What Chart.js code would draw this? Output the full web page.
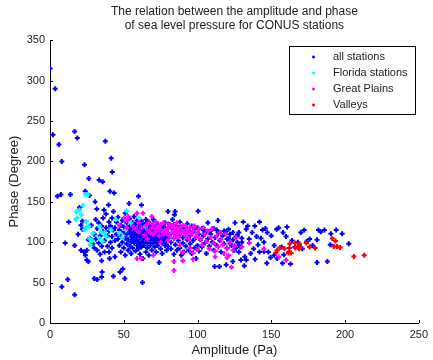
<!DOCTYPE html>
<html>
<head>
<meta charset="utf-8">
<script src="https://cdn.jsdelivr.net/npm/chart.js@4"></script>
<style>
html, body { margin: 0; padding: 0; background: #fff; }
</style>
</head>
<body>
<canvas id="myChart" width="433" height="360"></canvas>
<script>
// [amplitude (Pa), phase (degree)] pairs
const allStations = [
  [0,315],[3.5,290],[2,233],[6,221],[8,200],[5,157],[7.4,159],[13.8,159],[16.7,237],[18.5,229],
  [23.4,196],[26.3,179],[23.9,163],[26.8,158],[37.5,225],[33.3,177],[35.7,175],[41.5,204],[42.2,187],[40.6,163],
  [43.5,161],[8,45],[12,54],[16.7,35],[10.3,99],[12.7,125],[16.7,96],[30,55],[32,54],[35.3,63],
  [35,57],[43,58],[47.5,63],[49.3,67],[50.7,55],[62.7,50],[26,76],[35,77],[40.4,80],[60,157],
  [62,146],[53.6,148],[39.7,146],[30.6,150],[31.7,141],[36.6,140],[100.4,138.5],[113.8,127],[131,125],[142,125],
  [125.4,124],[84.4,134],[80,138],[84.8,138],[107,124],
  [182,115],[172.3,115],[186,115],[190.4,110.5],[194,115],[198,110.5],[202.5,98],[181,75],[188,76],[163,73],
  [160,107],[160.7,119],[153.6,116],[147.3,112],[144,115],[138.8,120],[134,120],[131.7,71],[147,74],[149.5,81],
  [157.6,74],[164,102],[176,104],[181,103],[169,96],[183.5,113],[155,118],[150,108],[145,100],[141,97],
  [138,92],[136,86],[133,78],[142,88],[152,96],[157,94],[166,94],[171,92],[174,101],[140,107],
  [137,112],[133,116],[130,100],[128,96],[127,108],[124,112],[121,116],[118,114],[115,112],[113,115],
  [110,116],[108,113],[105,112],[120,104],[122,98],[126,93],[128,88],[132,82],[135,104],[148,88],
  [152,84],[139,79],[143,105],[146,117],[158,112],[162,88],[168,100],[170,112],[178,96],[190,97],
  [111.6,70],[114.9,70],[119.4,72],[123.9,76],[129.4,78],[145.1,88.5],[154,80],[158.5,84.5],[97,119],[104,115],
  [20,143],[21,121],[22,126],[22,116],[23,88],[24,84],[25,90],[25,78],[27,105],[26,103],[19,110],[21,90],
  [28,121],[29,98],[30,110],[30,93],[31,128],[31,104],[32,117],[32,90],[33,124],[33,99],
  [34,108],[34,85],[35,120],[35,95],[36,113],[36,130],[37,102],[37,88],[38,118],[38,135],
  [39,108],[39,95],[40,125],[40,114],[40,88],[41,100],[41,120],[42,130],[42,107],[42,93],
  [43,115],[43,138],[44,102],[44,82],
  [44,118],[45,125],[45,110],[46,104],[46,131],[47,96],[47,115],[48,121],[48,108],[48,88],
  [49,100],[49,127],[50,113],[50,93],[50,119],[51,105],[51,84],[51,136],[52,110],[52,98],
  [52,124],[53,116],[53,90],[53,103],[54,129],[54,112],[54,95],[54,120],[55,107],[55,100],
  [55,86],[55,117],[56,124],[56,111],[56,93],[56,104],[57,118],[57,99],[57,132],[57,108],
  [58,114],[58,89],[58,102],[58,122],[59,96],[59,110],[59,106],[59,127],[60,117],[60,101],
  [60,92],[60,112],[61,108],[61,121],[61,98],[61,85],[62,114],[62,104],[62,126],[62,94],
  [63,110],[63,100],[63,118],[63,80],[64,107],[64,122],[64,96],[64,113],[65,103],[65,88],
  [65,116],[65,128],[66,110],[66,99],[66,120],[66,93],[67,106],[67,114],[67,84],[67,125],
  [68,102],[68,117],[68,96],[68,109],[69,112],[69,90],[69,121],[69,105],[70,99],[70,115],
  [70,108],[70,128],[71,103],[71,94],[71,119],[71,111],[72,107],[72,88],[72,114],[72,100],
  [73,122],[73,105],[73,96],[74,110],[74,117],[74,102],[74,75],[75,92],[75,106],[75,113],
  [76,99],[76,120],[76,86],[77,109],[77,103],[77,115],[78,96],[78,124],[78,107],[79,112],
  [79,100],[79,90],[80,118],[80,105],[80,95],
  [81,122],[81,110],[82,100],[82,92],[83,116],[83,128],[84,105],[84,85],[85,112],[85,97],
  [86,120],[86,90],[87,108],[87,102],[88,125],[88,93],[89,115],[89,84],[90,106],[90,99],
  [91,118],[91,88],[92,111],[92,95],[93,123],[93,103],[94,90],[94,114],[95,98],[95,108],
  [96,120],[96,86],[97,102],[97,112],[98,93],[98,116],[99,106],[99,80],[100,96],[100,118],
  [101,110],[101,89],[102,103],[103,117],[103,94],[104,108],[105,99],[106,113],[106,86],[107,104],
  [108,95],[109,110],[110,100],[111,117],[111,90],[112,106],[113,96],[114,112],[115,102],[116,88],
  [117,108],[118,98],[119,113],[120,93],[121,105],[122,110],[123,96],[124,103],[125,90],[126,107],
  [127,100],[128,112],[129,94],[130,105],
  [57,113],[63,121],[68,119],[73,112],[78,118],[83,120],[88,112],[92,117],[66,124],[61,116]
];
const floridaStations = [
  [24,159],[25.7,159],[22.3,145.5],[20,140],[17.9,137.7],[21.2,134],[18.3,130],[17.4,128],[24.5,125.7],[26.3,120],
  [23.4,115.4],[24.5,118.7],[33.5,119.6],[34.6,113],[29,111],[26.8,104.7],[28.6,102],[27.2,97],[33.5,105],[35.7,101],
  [36.8,111],[38,107],[41.3,115],[44.6,128],[51.8,139],[51.3,115],[60.3,130],[54.7,123.7],[64.7,119.6],[46.9,111],
  [49,106]
];
const greatPlains = [
  [50,130],[52,127],[53,132],[56,120],[58,116],[59,136],[60,113],[62,118],[62,80],[63,136],
  [64,109],[65,121],[66,115],[67,124],[68,112],[69,132],[69,118],[70,110],[70,122],[71,116],
  [72,113],[72,125],[73,119],[74,108],[74,116],[75,122],[76,113],[77,110],[77,124],
  [78,115],[79,112],[80,117],[80,123],[81,108],[82,120],[83,112],[83,117],
  [84,122],[84,106],[85,115],[85,110],[86,118],[86,124],[87,113],[87,107],[88,119],[88,96],
  [89,115],[89,111],[90,121],[90,88],[91,113],[92,108],[92,120],[93,116],[94,112],
  [94,104],[95,118],[95,93],[96,110],[97,114],[97,87],[98,120],[99,107],[100,112],[100,91],
  [101,116],[102,104],[103,97],[104,118],[105,110],[106,101],[107,114],[108,92],[109,106],[110,117],
  [111,99],[112,89],[113,108],[114,94],[115,112],[116,103],[117,97],[118,86],[119,110],[120,92],
  [121,84],[122,100],[123,69],[124,90],[125,96],[126,106],[84,65],[84,76],[90,77],[97,79],
  [112,82],[120,81],[155,82],[160,78],[59,80],[70,84],[75,100],[80,102],[66,104],[60,124],
  [47,121],[52,118],[145,92],[135,99],[130,94]
];
const valleys = [
  [213,84],[206,82.4],[191.3,104.7],[193.5,101.4],[192.4,94.8],[194.6,94.8],[196.7,93.6],[179.7,93],[175.9,94],[173.7,99],
  [169,98],[168.5,94.8],[166.3,92.8],[162.5,98],[162.3,92.8],[161.6,86.6],[163.4,86.6],[158.9,92.3],[155.8,93.6],[154,90],
  [152.9,86.6],[166,99],[169,91.5]
];
const xTicks = [0, 50, 100, 150, 200, 250];
const yTicks = [0, 50, 100, 150, 200, 250, 300, 350];
const seriesNames = ['all stations', 'Florida stations', 'Great Plains', 'Valleys'];
const seriesColors = ['#0000ff', '#00ffff', '#ff00ff', '#ff0000'];

Chart.defaults.font.family = "'Liberation Sans', Arial, sans-serif";
Chart.defaults.color = '#222';

const toPts = arr => arr.map(p => ({ x: p[0], y: p[1] }));

// MATLAB-style inward tick marks
const innerTicks = {
  id: 'innerTicks',
  afterDatasetsDraw(chart) {
    const c = chart.ctx, a = chart.chartArea;
    const sx = chart.scales.x, sy = chart.scales.y;
    c.save();
    c.strokeStyle = '#000';
    c.lineWidth = 1;
    c.beginPath();
    xTicks.forEach(v => {
      const px = Math.round(sx.getPixelForValue(v)) + 0.5;
      c.moveTo(px, a.bottom);
      c.lineTo(px, a.bottom - 3);
    });
    yTicks.forEach(v => {
      const py = Math.round(sy.getPixelForValue(v)) + 0.5;
      c.moveTo(a.left, py);
      c.lineTo(a.left + 3, py);
    });
    c.stroke();
    c.restore();
  }
};

// boxed legend in the upper right of the axes
const boxLegend = {
  id: 'boxLegend',
  afterDraw(chart) {
    const c = chart.ctx;
    const x0 = 289.5, y0 = 46.5, w = 126, h = 68;
    c.save();
    c.fillStyle = '#fff';
    c.fillRect(x0, y0, w, h);
    c.strokeStyle = '#000';
    c.lineWidth = 1;
    c.strokeRect(x0, y0, w, h);
    c.font = "11px 'Liberation Sans', Arial, sans-serif";
    c.textBaseline = 'middle';
    seriesNames.forEach((name, i) => {
      const ty = y0 + 10.5 + i * 16;
      c.strokeStyle = seriesColors[i];
      c.lineWidth = 1.5;
      c.beginPath();
      c.moveTo(312, ty); c.lineTo(315, ty);
      c.moveTo(313.5, ty - 1.5); c.lineTo(313.5, ty + 1.5);
      c.stroke();
      c.fillStyle = '#222';
      c.fillText(name, 333, ty);
    });
    c.restore();
  }
};

const datasets = [allStations, floridaStations, greatPlains, valleys].map((d, i) => ({
  label: seriesNames[i],
  data: toPts(d),
  borderColor: seriesColors[i],
  backgroundColor: seriesColors[i],
  pointStyle: 'cross',
  pointRadius: 2.5,
  borderWidth: 2,
  order: 3 - i
}));

const myChart = new Chart(document.getElementById('myChart'), {
  type: 'scatter',
  data: { datasets },
  options: {
    responsive: false,
    animation: false,
    layout: { padding: { left: 0, right: 10, top: 0, bottom: 0 } },
    plugins: {
      legend: { display: false },
      tooltip: { enabled: false },
      title: {
        display: true,
        fullSize: false,
        text: ['The relation between the amplitude and phase', 'of sea level pressure for CONUS stations'],
        font: { size: 12, weight: 'normal' },
        color: '#222',
        padding: { top: 4, bottom: 7.5 }
      }
    },
    scales: {
      x: {
        type: 'linear', min: 0, max: 250,
        ticks: { stepSize: 50, padding: 5, font: { size: 11 }, color: '#222' },
        grid: { display: false, drawTicks: false },
        border: { display: true, color: '#000', width: 1 },
        title: { display: true, text: 'Amplitude (Pa)', font: { size: 13 }, color: '#222', padding: { top: 0, bottom: 2 } },
        afterFit: s => { s.height = 37; }
      },
      y: {
        type: 'linear', min: 0, max: 350,
        ticks: { stepSize: 50, padding: 5, font: { size: 11 }, color: '#222' },
        grid: { display: false, drawTicks: false },
        border: { display: true, color: '#000', width: 1 },
        title: { display: true, text: 'Phase (Degree)', font: { size: 13 }, color: '#222', padding: { top: 7, bottom: 0 } },
        afterFit: s => { s.width = 50; }
      }
    }
  },
  plugins: [innerTicks, boxLegend]
});
</script>
</body>
</html>
